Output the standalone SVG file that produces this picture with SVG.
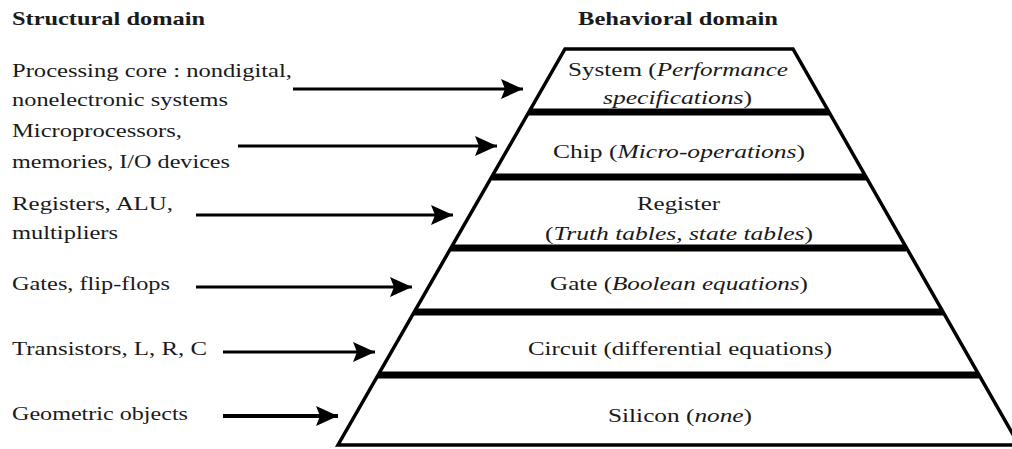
<svg xmlns="http://www.w3.org/2000/svg" width="1012" height="449" viewBox="0 0 1012 449">
<style>
text{font-family:'Liberation Serif','Times New Roman',serif;font-size:19.5px;fill:#1a1a1a}
.b{font-weight:bold}
.i{font-style:italic}
.arr{stroke:#000;stroke-width:3;fill:none}
.sep{stroke:#000;stroke-width:7}
.outline{stroke:#000;stroke-width:3.5;fill:none;stroke-linejoin:miter}
</style>
<defs>
<marker id="ah" markerUnits="userSpaceOnUse" markerWidth="26" markerHeight="24" refX="22" refY="10" orient="auto">
<path d="M0,0 L22,10 L0,20 L4,10 Z" fill="#000"/>
</marker>
</defs>
<rect width="1012" height="449" fill="#fff"/>
<g id="headers">
<text class="b" x="12" y="25" textLength="193" lengthAdjust="spacingAndGlyphs">Structural domain</text>
<text class="b" x="578" y="25" textLength="200" lengthAdjust="spacingAndGlyphs">Behavioral domain</text>
</g>
<g id="s-processing">
<text x="12" y="77" textLength="280" lengthAdjust="spacingAndGlyphs">Processing core : nondigital,</text>
<text x="12" y="106" textLength="216" lengthAdjust="spacingAndGlyphs">nonelectronic systems</text>
</g>
<g id="s-micro">
<text x="12" y="137" textLength="170" lengthAdjust="spacingAndGlyphs">Microprocessors,</text>
<text x="12" y="168" textLength="218" lengthAdjust="spacingAndGlyphs">memories, I/O devices</text>
</g>
<g id="s-registers">
<text x="12" y="210" textLength="161" lengthAdjust="spacingAndGlyphs">Registers, ALU,</text>
<text x="12" y="239" textLength="106" lengthAdjust="spacingAndGlyphs">multipliers</text>
</g>
<g id="s-gates">
<text x="12" y="290" textLength="158" lengthAdjust="spacingAndGlyphs">Gates, flip-flops</text>
</g>
<g id="s-transistors">
<text x="12" y="355" textLength="195" lengthAdjust="spacingAndGlyphs">Transistors, L, R, C</text>
</g>
<g id="s-geometric">
<text x="12" y="420" textLength="176" lengthAdjust="spacingAndGlyphs">Geometric objects</text>
</g>
<g id="b-system">
<text x="568" y="76" textLength="220" lengthAdjust="spacingAndGlyphs">System (<tspan class="i">Performance</tspan></text>
<text x="603" y="104" textLength="149" lengthAdjust="spacingAndGlyphs"><tspan class="i">specifications</tspan>)</text>
</g>
<g id="b-chip">
<text x="553" y="158" textLength="252" lengthAdjust="spacingAndGlyphs">Chip (<tspan class="i">Micro-operations</tspan>)</text>
</g>
<g id="b-register">
<text x="637" y="210" textLength="83" lengthAdjust="spacingAndGlyphs">Register</text>
<text x="545" y="240" textLength="268" lengthAdjust="spacingAndGlyphs">(<tspan class="i">Truth tables, state tables</tspan>)</text>
</g>
<g id="b-gate">
<text x="550" y="290" textLength="258" lengthAdjust="spacingAndGlyphs">Gate (<tspan class="i">Boolean equations</tspan>)</text>
</g>
<g id="b-circuit">
<text x="528" y="355" textLength="304" lengthAdjust="spacingAndGlyphs">Circuit (differential equations)</text>
</g>
<g id="b-silicon">
<text x="608" y="422" textLength="144" lengthAdjust="spacingAndGlyphs">Silicon (<tspan class="i">none</tspan>)</text>
</g>
<g id="pyramid">
<line class="sep" x1="529" y1="112" x2="829" y2="112"/>
<line class="sep" x1="492" y1="177" x2="866" y2="177"/>
<line class="sep" x1="451" y1="248" x2="906" y2="248"/>
<line class="sep" x1="414" y1="312" x2="943" y2="312"/>
<line class="sep" x1="378" y1="375" x2="979" y2="375"/>
<polygon class="outline" points="565,49 793,49 1019,445 338,445"/>
</g>
<g id="connectors">
<line class="arr" x1="293" y1="89" x2="523" y2="89" marker-end="url(#ah)"/>
<line class="arr" x1="238" y1="146" x2="497" y2="146" marker-end="url(#ah)"/>
<line class="arr" x1="196" y1="215" x2="453" y2="215" marker-end="url(#ah)"/>
<line class="arr" x1="196" y1="287" x2="412" y2="287" marker-end="url(#ah)"/>
<line class="arr" x1="223" y1="352" x2="375" y2="352" marker-end="url(#ah)"/>
<line class="arr" x1="223" y1="416" x2="338" y2="416" style="stroke-width:4" marker-end="url(#ah)"/>
</g>
</svg>
